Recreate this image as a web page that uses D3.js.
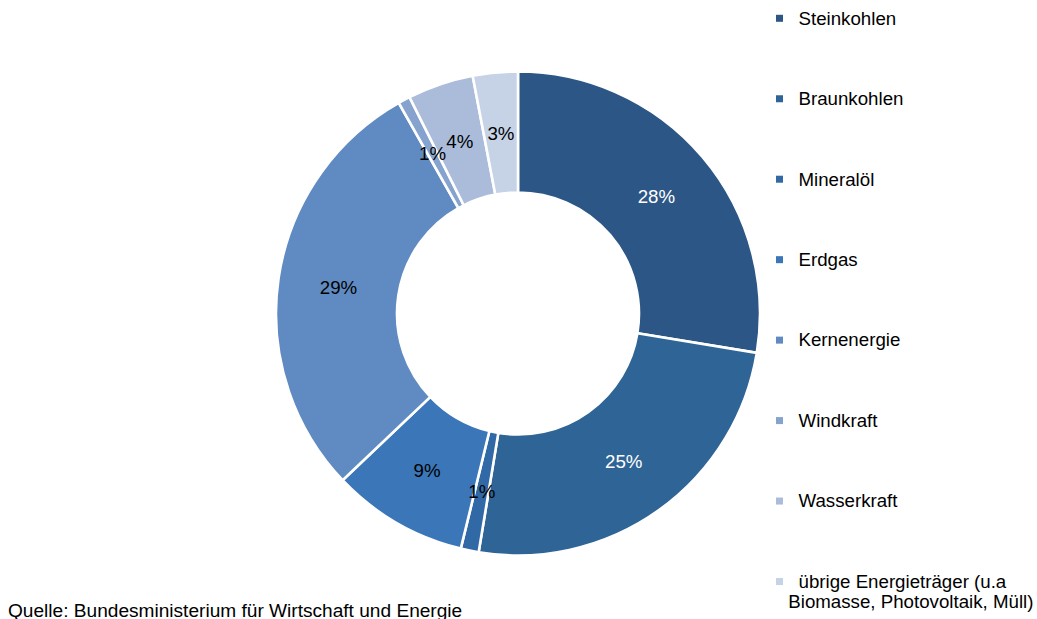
<!DOCTYPE html>
<html lang="de">
<head>
<meta charset="utf-8">
<script src="https://cdn.jsdelivr.net/npm/d3@7"></script>
<style>
  html, body { margin: 0; padding: 0; background: #ffffff; }
  svg { display: block; font-family: "Liberation Sans", Arial, sans-serif; }
</style>
</head>
<body>
<svg id="chart" width="1037" height="619"></svg>
<script>
// Energy sources (share of primary energy use, percent)
const categories = [
  "Steinkohlen",
  "Braunkohlen",
  "Mineralöl",
  "Erdgas",
  "Kernenergie",
  "Windkraft",
  "Wasserkraft",
  "übrige Energieträger (u.a"
];
const legendSecondLine = ["", "", "", "", "", "", "", "Biomasse, Photovoltaik, Müll)"];
const values = [27.6, 25.0, 1.2, 9.1, 28.9, 0.8, 4.4, 3.0];
const colors = ["#2c5686", "#2f6496", "#3169a6", "#3a76b8", "#608bc2", "#86a3cf", "#aabcda", "#c6d2e6"];
const labelColors = ["#ffffff", "#ffffff", "#000000", "#000000", "#000000", "#000000", "#000000", "#000000"];
const sourceText = "Quelle: Bundesministerium für Wirtschaft und Energie";

const svg = d3.select("#chart");
const cx = 518, cy = 313.5;
const outerR = 242, innerR = 121;
const fontSize = 18.7;

const data = categories.map((c, i) => ({ name: c, value: values[i], i }));
const total = d3.sum(values);

const pie = d3.pie().sort(null).value(d => d.value).startAngle(0).endAngle(2 * Math.PI);
const arc = d3.arc().innerRadius(innerR).outerRadius(outerR);
const color = d3.scaleOrdinal().domain(categories).range(colors);

const g = svg.append("g").attr("transform", `translate(${cx},${cy})`);
const arcs = pie(data);

g.selectAll("path.slice")
  .data(arcs)
  .join("path")
  .attr("class", "slice")
  .attr("d", arc)
  .attr("fill", d => color(d.data.name))
  .attr("stroke", "#ffffff")
  .attr("stroke-width", 2.6)
  .attr("stroke-linejoin", "miter");

// Percentage labels at slice centroids
g.selectAll("text.pct")
  .data(arcs)
  .join("text")
  .attr("class", "pct")
  .attr("x", d => arc.centroid(d)[0])
  .attr("y", d => arc.centroid(d)[1])
  .attr("dy", "0.36em")
  .attr("text-anchor", "middle")
  .attr("font-size", fontSize)
  .attr("fill", d => labelColors[d.data.i])
  .text(d => Math.round(d.data.value / total * 100) + "%");

// Legend
const legendY = d3.scalePoint().domain(categories).range([18.3, 581.5]);
const legend = svg.append("g");
const items = legend.selectAll("g.item")
  .data(categories)
  .join("g")
  .attr("class", "item")
  .attr("transform", d => `translate(0,${legendY(d)})`);

items.append("rect")
  .attr("x", 776)
  .attr("y", -3.5)
  .attr("width", 7)
  .attr("height", 7)
  .attr("fill", d => color(d));

items.append("text")
  .attr("x", 798.5)
  .attr("y", 6.3)
  .attr("font-size", fontSize)
  .attr("fill", "#000000")
  .text(d => d);

items.filter((d, i) => legendSecondLine[i] !== "")
  .append("text")
  .attr("x", 788.3)
  .attr("y", 26.8)
  .attr("font-size", fontSize)
  .attr("fill", "#000000")
  .text(d => legendSecondLine[categories.indexOf(d)]);

// Source note
svg.append("text")
  .attr("x", 8)
  .attr("y", 616.5)
  .attr("font-size", 19.1)
  .attr("fill", "#000000")
  .text(sourceText);
</script>
</body>
</html>
